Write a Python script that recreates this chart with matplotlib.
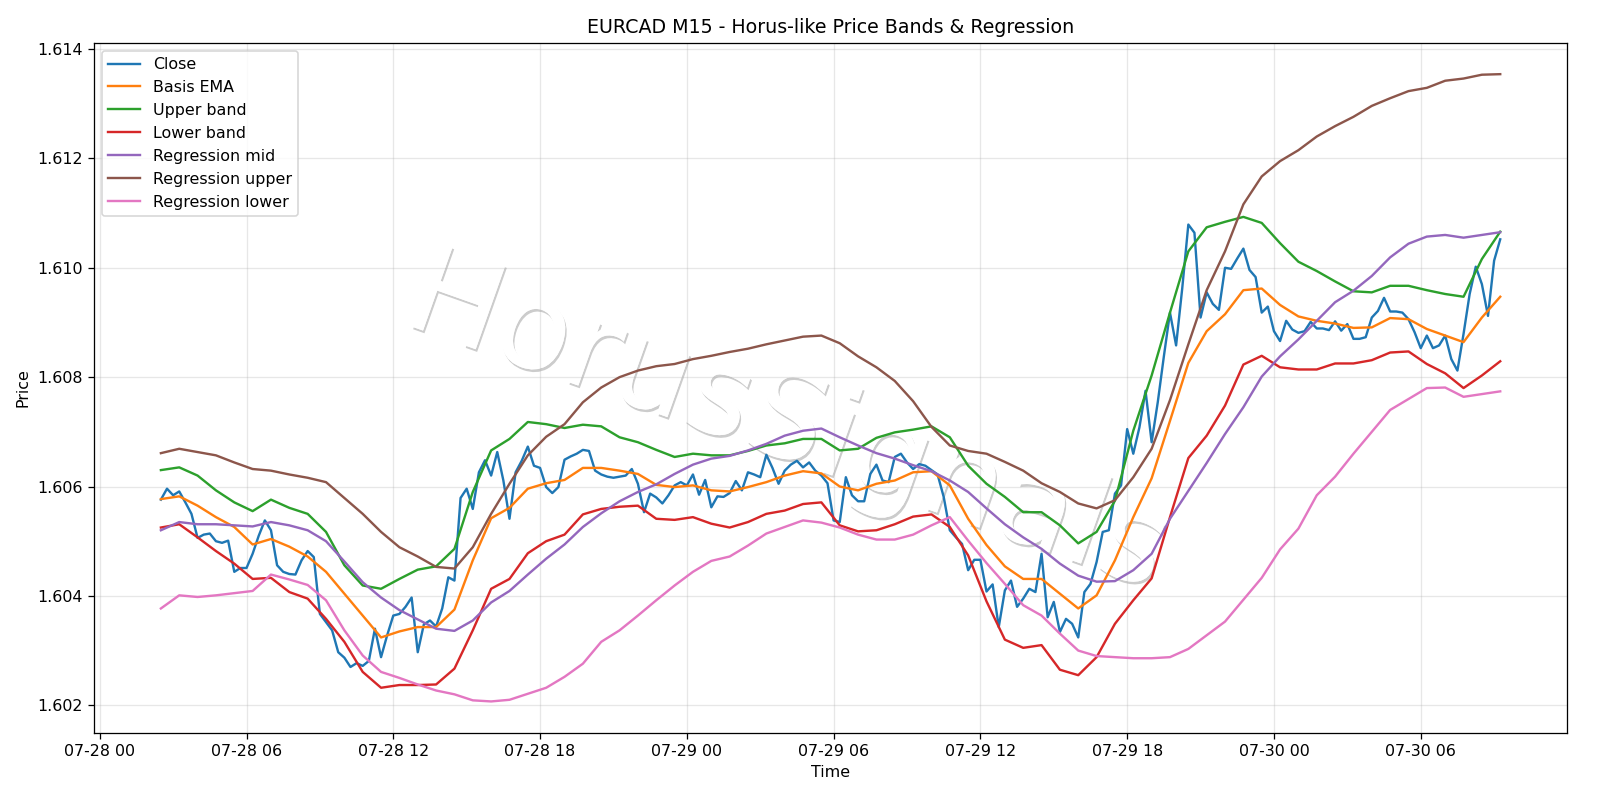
import matplotlib
matplotlib.use("Agg")
import matplotlib.pyplot as plt
import matplotlib.dates as mdates
import matplotlib.patheffects as pe
import pandas as pd
import numpy as np

# ---- data (15-minute bars, EURCAD) ----
start_time = "2025-07-28 02:30"
n_bars = 220

close = [
    1.60576, 1.60596, 1.60584, 1.60591, 1.60571, 1.60550, 1.60506, 1.60512, 1.60514, 1.60500,
    1.60497, 1.60501, 1.60444, 1.60451, 1.60451, 1.60477, 1.60510, 1.60538, 1.60520, 1.60456,
    1.60444, 1.60440, 1.60439, 1.60465, 1.60482, 1.60471, 1.60367, 1.60352, 1.60337, 1.60297,
    1.60287, 1.60270, 1.60277, 1.60272, 1.60281, 1.60340, 1.60288, 1.60328, 1.60364, 1.60367,
    1.60380, 1.60397, 1.60297, 1.60348, 1.60355, 1.60344, 1.60377, 1.60434, 1.60428, 1.60579,
    1.60596, 1.60559, 1.60626, 1.60648, 1.60620, 1.60663, 1.60611, 1.60541, 1.60626, 1.60647,
    1.60673, 1.60638, 1.60634, 1.60599, 1.60588, 1.60599, 1.60649, 1.60655, 1.60660, 1.60667,
    1.60665, 1.60629, 1.60622, 1.60618, 1.60616, 1.60618, 1.60620, 1.60632, 1.60605, 1.60553,
    1.60587, 1.60580, 1.60569, 1.60584, 1.60602, 1.60608, 1.60602, 1.60622, 1.60585, 1.60612,
    1.60562, 1.60582, 1.60581, 1.60588, 1.60610, 1.60593, 1.60626, 1.60622, 1.60617, 1.60658,
    1.60634, 1.60605, 1.60629, 1.60640, 1.60647, 1.60635, 1.60644, 1.60629, 1.60620, 1.60606,
    1.60538, 1.60535, 1.60617, 1.60584, 1.60573, 1.60573, 1.60623, 1.60640, 1.60611, 1.60608,
    1.60654, 1.60660, 1.60644, 1.60632, 1.60641, 1.60638, 1.60630, 1.60622, 1.60581, 1.60520,
    1.60507, 1.60495, 1.60447, 1.60466, 1.60466, 1.60408, 1.60421, 1.60343, 1.60410, 1.60428,
    1.60380, 1.60395, 1.60413, 1.60407, 1.60477, 1.60361, 1.60389, 1.60334, 1.60358, 1.60349,
    1.60324, 1.60407, 1.60422, 1.60462, 1.60517, 1.60520, 1.60587, 1.60602, 1.60705, 1.60660,
    1.60708, 1.60775, 1.60681, 1.60754, 1.60838, 1.60918, 1.60858, 1.60962, 1.61079, 1.61064,
    1.60909, 1.60955, 1.60934, 1.60923, 1.61000, 1.60998, 1.61017, 1.61035, 1.60996, 1.60983,
    1.60918, 1.60929, 1.60884, 1.60866, 1.60903, 1.60887, 1.60881, 1.60884, 1.60901, 1.60889,
    1.60889, 1.60886, 1.60902, 1.60885, 1.60897, 1.60870, 1.60870, 1.60873, 1.60909, 1.60921,
    1.60945, 1.60920, 1.60920, 1.60918, 1.60906, 1.60882, 1.60853, 1.60876, 1.60853, 1.60858,
    1.60876, 1.60833, 1.60812, 1.60879, 1.60952, 1.61002, 1.60970, 1.60912, 1.61013, 1.61052,
]

# smooth indicator values sampled every third bar (45 minutes)
basis_ema = [
    1.60577, 1.60582, 1.60565, 1.60544, 1.60526, 1.60494, 1.60504, 1.60490, 1.60472, 1.60444,
    1.60404, 1.60364, 1.60324, 1.60335, 1.60343, 1.60343, 1.60375, 1.60465, 1.60542, 1.60561,
    1.60596, 1.60606, 1.60612, 1.60634, 1.60634, 1.60629, 1.60623, 1.60603, 1.60599, 1.60602,
    1.60593, 1.60591, 1.60599, 1.60608, 1.60620, 1.60628, 1.60624, 1.60600, 1.60593, 1.60605,
    1.60611, 1.60626, 1.60628, 1.60602, 1.60541, 1.60493, 1.60454, 1.60431, 1.60431, 1.60404,
    1.60377, 1.60401, 1.60465, 1.60544, 1.60615, 1.60720, 1.60826, 1.60884, 1.60915, 1.60959,
    1.60962, 1.60932, 1.60911, 1.60903, 1.60898, 1.60890, 1.60891, 1.60908, 1.60906, 1.60888,
    1.60876, 1.60864, 1.60909, 1.60947,
]
upper_band = [
    1.60630, 1.60635, 1.60620, 1.60593, 1.60571, 1.60555, 1.60576, 1.60561, 1.60550, 1.60517,
    1.60456, 1.60419, 1.60413, 1.60431, 1.60448, 1.60454, 1.60486, 1.60590, 1.60666, 1.60687,
    1.60718, 1.60714, 1.60707, 1.60713, 1.60710, 1.60690, 1.60681, 1.60667, 1.60654, 1.60660,
    1.60657, 1.60657, 1.60665, 1.60675, 1.60679, 1.60687, 1.60687, 1.60666, 1.60669, 1.60689,
    1.60699, 1.60704, 1.60710, 1.60690, 1.60638, 1.60605, 1.60581, 1.60553, 1.60553, 1.60529,
    1.60496, 1.60517, 1.60574, 1.60702, 1.60803, 1.60918, 1.61030, 1.61074, 1.61084, 1.61093,
    1.61082, 1.61045, 1.61011, 1.60994, 1.60975, 1.60957, 1.60955, 1.60967, 1.60967, 1.60959,
    1.60952, 1.60947, 1.61016, 1.61066,
]
lower_band = [
    1.60525, 1.60531, 1.60507, 1.60482, 1.60459, 1.60431, 1.60433, 1.60407, 1.60395, 1.60358,
    1.60316, 1.60261, 1.60232, 1.60237, 1.60237, 1.60238, 1.60267, 1.60337, 1.60413, 1.60431,
    1.60478, 1.60500, 1.60512, 1.60549, 1.60559, 1.60563, 1.60565, 1.60541, 1.60539, 1.60544,
    1.60532, 1.60525, 1.60535, 1.60550, 1.60556, 1.60568, 1.60571, 1.60529, 1.60518, 1.60520,
    1.60531, 1.60545, 1.60549, 1.60526, 1.60474, 1.60390, 1.60320, 1.60305, 1.60310, 1.60265,
    1.60255, 1.60288, 1.60349, 1.60392, 1.60432, 1.60544, 1.60652, 1.60693, 1.60748, 1.60823,
    1.60839, 1.60818, 1.60814, 1.60814, 1.60825, 1.60825, 1.60831, 1.60845, 1.60847, 1.60824,
    1.60807, 1.60780, 1.60803, 1.60829,
]
regression_mid = [
    1.60520, 1.60535, 1.60531, 1.60531, 1.60529, 1.60527, 1.60535, 1.60529, 1.60520, 1.60500,
    1.60463, 1.60425, 1.60397, 1.60374, 1.60357, 1.60340, 1.60336, 1.60355, 1.60388, 1.60409,
    1.60439, 1.60468, 1.60494, 1.60526, 1.60551, 1.60573, 1.60590, 1.60604, 1.60623, 1.60640,
    1.60651, 1.60656, 1.60666, 1.60678, 1.60693, 1.60702, 1.60706, 1.60690, 1.60675, 1.60661,
    1.60651, 1.60639, 1.60628, 1.60611, 1.60590, 1.60560, 1.60531, 1.60507, 1.60486, 1.60459,
    1.60437, 1.60426, 1.60427, 1.60447, 1.60477, 1.60541, 1.60592, 1.60643, 1.60696, 1.60745,
    1.60801, 1.60838, 1.60869, 1.60903, 1.60937, 1.60958, 1.60985, 1.61019, 1.61044, 1.61057,
    1.61060, 1.61055, 1.61060, 1.61065,
]
regression_upper = [
    1.60661, 1.60669, 1.60663, 1.60657, 1.60644, 1.60632, 1.60629, 1.60622, 1.60616, 1.60608,
    1.60579, 1.60550, 1.60517, 1.60489, 1.60472, 1.60453, 1.60450, 1.60489, 1.60550, 1.60605,
    1.60657, 1.60691, 1.60714, 1.60754, 1.60781, 1.60800, 1.60812, 1.60820, 1.60824, 1.60833,
    1.60839, 1.60846, 1.60852, 1.60860, 1.60867, 1.60874, 1.60876, 1.60862, 1.60838, 1.60818,
    1.60793, 1.60756, 1.60709, 1.60675, 1.60665, 1.60660, 1.60645, 1.60629, 1.60606, 1.60590,
    1.60569, 1.60560, 1.60575, 1.60617, 1.60669, 1.60758, 1.60860, 1.60959, 1.61030, 1.61116,
    1.61167, 1.61195, 1.61215, 1.61240, 1.61259, 1.61276, 1.61296, 1.61310, 1.61323, 1.61329,
    1.61342, 1.61346, 1.61353, 1.61354,
]
regression_lower = [
    1.60377, 1.60401, 1.60398, 1.60401, 1.60405, 1.60409, 1.60439, 1.60430, 1.60420, 1.60392,
    1.60337, 1.60291, 1.60261, 1.60250, 1.60238, 1.60227, 1.60220, 1.60209, 1.60207, 1.60210,
    1.60221, 1.60232, 1.60252, 1.60276, 1.60316, 1.60337, 1.60364, 1.60392, 1.60419, 1.60444,
    1.60464, 1.60472, 1.60492, 1.60514, 1.60526, 1.60538, 1.60534, 1.60525, 1.60512, 1.60503,
    1.60503, 1.60512, 1.60529, 1.60544, 1.60501, 1.60460, 1.60422, 1.60383, 1.60364, 1.60331,
    1.60300, 1.60290, 1.60288, 1.60286, 1.60286, 1.60288, 1.60303, 1.60328, 1.60353, 1.60393,
    1.60433, 1.60485, 1.60523, 1.60584, 1.60618, 1.60660, 1.60700, 1.60740, 1.60760, 1.60780,
    1.60781, 1.60764, 1.60769, 1.60774,
]

title = "EURCAD M15 - Horus-like Price Bands & Regression"
watermark = "HorusSignals"

# ---- figure ----
times = pd.date_range(start_time, periods=n_bars, freq="15min")
times_s = times[::3]

DPI = 1600 / 14
fig = plt.figure(figsize=(14, 7), dpi=DPI)
ax = fig.add_axes([0.0587, 0.084, 0.9208, 0.8625])

ax.plot(times, close, label="Close")
ax.plot(times_s, basis_ema, label="Basis EMA")
ax.plot(times_s, upper_band, label="Upper band")
ax.plot(times_s, lower_band, label="Lower band")
ax.plot(times_s, regression_mid, label="Regression mid")
ax.plot(times_s, regression_upper, label="Regression upper")
ax.plot(times_s, regression_lower, label="Regression lower")

ax.set_title(title)
ax.set_xlabel("Time")
ax.set_ylabel("Price")
ax.grid(True, alpha=0.3)
ax.legend(loc="upper left")
ax.xaxis.set_major_locator(mdates.HourLocator(byhour=[0, 6, 12, 18]))
ax.xaxis.set_major_formatter(mdates.DateFormatter("%m-%d %H"))

# watermark: white glyphs with a soft grey shadow, behind grid and lines
ax.text(0.492, 0.47, watermark, transform=fig.transFigure, fontsize=77,
        color="white", rotation=-19.5, ha="center", va="center", zorder=0.5,
        clip_on=False,
        path_effects=[pe.withSimplePatchShadow(offset=(0.9, -1.7),
                                               shadow_rgbFace="black", alpha=0.2),
                      pe.Normal()])

fig.savefig("out.png", dpi=DPI)
